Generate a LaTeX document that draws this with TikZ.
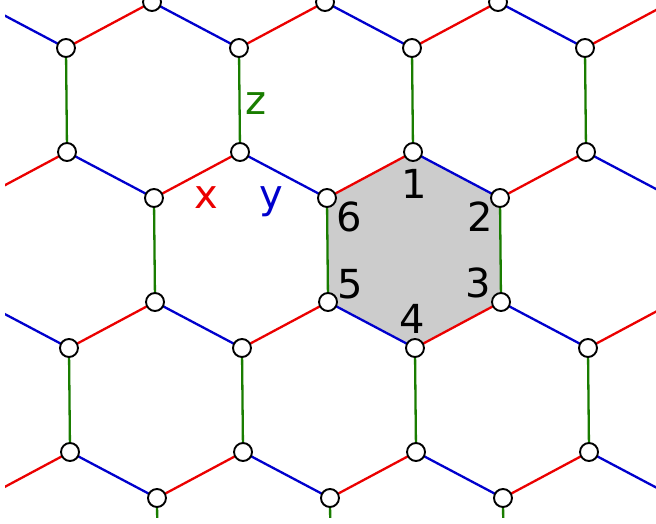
\documentclass[tikz,border=0pt]{standalone}
\usepackage{fontspec}
\setmainfont{DejaVu Sans}
\definecolor{xcol}{RGB}{235,0,0}
\definecolor{ycol}{RGB}{0,0,205}
\definecolor{zcol}{RGB}{25,125,0}
\tikzset{
    site/.style={circle,draw=black,fill=white,line width=1.9pt,inner sep=0pt,minimum size=18pt},
    xbond/.style={xcol,line width=2.3pt},
    ybond/.style={ycol,line width=2.3pt},
    zbond/.style={zcol,line width=2.3pt},
    num/.style={font=\fontsize{40}{40}\selectfont,anchor=base},
}

\begin{document}
\begin{tikzpicture}[x=1pt,y=-1pt]
    \useasboundingbox (0,0) rectangle (656,524);
    % T = upper end, B = lower end of each z bond
    \foreach \i in {0,...,5}{
        \foreach \j in {0,...,4}{
            \pgfmathsetmacro{\ty}{-102+150*\j}
            \pgfmathsetmacro{\tx}{-107.5+173*\i+86.5*(1-mod(\j,2))+0.01*\ty}
            \coordinate (T-\i-\j) at (\tx,\ty);
            \coordinate (B-\i-\j) at (\tx+1.04,\ty+104);
        }
    }
    \fill[gray!40] (B-3-1) -- (T-3-2) -- (B-3-2) -- (T-3-3) -- (B-2-2) -- (T-2-2) -- cycle;
    \begin{scope}
        \clip (5,0) rectangle (656,517);
        \foreach \i in {0,...,5}{
            \foreach \j in {0,...,4}{
                \draw[zbond] (T-\i-\j) -- (B-\i-\j);
            }
            \foreach \j in {0,...,3}{
                \pgfmathtruncatemacro{\l}{\i-mod(\j,2)}
                \pgfmathtruncatemacro{\r}{\l+1}
                \pgfmathtruncatemacro{\k}{\j+1}
                \ifnum\l>-1 \draw[xbond] (B-\i-\j) -- (T-\l-\k); \fi
                \ifnum\r<6 \draw[ybond] (B-\i-\j) -- (T-\r-\k); \fi
            }
        }
    \end{scope}
    \foreach \i in {0,...,5}{
        \foreach \j in {0,...,4}{
            \node[site] at (T-\i-\j) {};
            \node[site] at (B-\i-\j) {};
        }
    }
    % plaquette sites
    \path (B-3-1) ++(1.5,46.5) node[num] {1};
    \path (T-3-2) ++(-20,33) node[num] {2};
    \path (B-3-2) ++(-23,-5) node[num] {3};
    \path (T-3-3) ++(-3,-15) node[num] {4};
    \path (B-2-2) ++(22,-4) node[num] {5};
    \path (T-2-2) ++(22,33) node[num] {6};
    % bond types
    \path (B-2-1) ++(16,-37) node[num,zcol] {z};
    \path (B-2-1) ++(-33.5,56) node[num,xcol] {x};
    \path (B-2-1) ++(31.5,56) node[num,ycol] {y};
\end{tikzpicture}
\end{document}
